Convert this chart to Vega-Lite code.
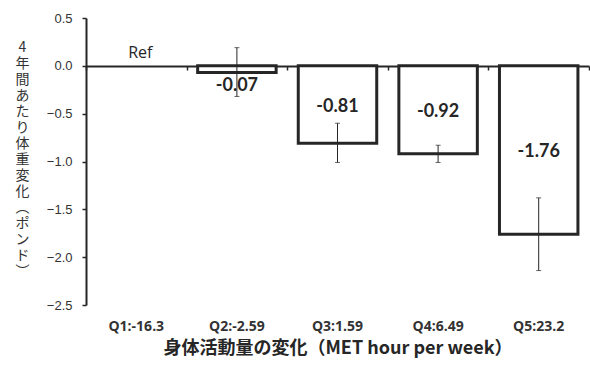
{
  "$schema": "https://vega.github.io/schema/vega-lite/v6.json",
  "width": 503,
  "height": 287,
  "autosize": {"type": "none"},
  "padding": {"left": 86, "top": 18, "right": 1, "bottom": 66},
  "background": "white",
  "config": {"view": {"stroke": null}},
  "data": {
    "values": [
      {"q": "Q1:-16.3", "value": null, "lo": null, "hi": null, "label": "Ref"},
      {"q": "Q2:-2.59", "value": -0.07, "lo": -0.32, "hi": 0.19, "label": "-0.07"},
      {"q": "Q3:1.59", "value": -0.81, "lo": -1.01, "hi": -0.6, "label": "-0.81"},
      {"q": "Q4:6.49", "value": -0.92, "lo": -1.01, "hi": -0.83, "label": "-0.92"},
      {"q": "Q5:23.2", "value": -1.76, "lo": -2.14, "hi": -1.38, "label": "-1.76"}
    ]
  },
  "resolve": {"axis": {"x": "independent", "y": "independent"}},
  "layer": [
    {
      "transform": [{"filter": "datum.value != null"}],
      "mark": {"type": "bar", "fill": "white", "stroke": "#262626", "strokeWidth": 3, "width": {"band": 0.78}},
      "encoding": {
        "x": {
          "field": "q", "type": "nominal", "sort": null,
          "scale": {"domain": ["Q1:-16.3", "Q2:-2.59", "Q3:1.59", "Q4:6.49", "Q5:23.2"], "paddingInner": 0, "paddingOuter": 0},
          "axis": {
            "orient": "bottom", "domain": false, "ticks": false, "labelAngle": 0,
            "labelFont": "Open Sans", "labelFontWeight": "bold", "labelFontSize": 14, "labelColor": "#333333",
            "labelPadding": 14, "labelBaseline": "top",
            "title": "身体活動量の変化（MET hour per week）",
            "titleFont": "Noto Sans CJK JP", "titleFontWeight": "bold", "titleFontSize": 18, "titleColor": "#262626",
            "titlePadding": 6
          }
        },
        "y": {
          "field": "value", "type": "quantitative",
          "scale": {"domain": [-2.5, 0.5], "nice": false, "zero": false},
          "axis": {
            "values": [0.5, 0, -0.5, -1, -1.5, -2, -2.5], "format": ".1f", "grid": false,
            "domain": true, "domainColor": "#262626", "domainWidth": 2,
            "tickColor": "#262626", "tickSize": 4, "tickWidth": 1.5,
            "labelFont": "Liberation Sans", "labelFontSize": 13, "labelColor": "#333333", "labelPadding": 10,
            "title": ["4", "年", "間", "あ", "た", "り", "体", "重", "変", "化", "︵", "ポ", "ン", "ド", "︶"],
            "titleAngle": 0, "titleAlign": "center", "titleBaseline": "top",
            "titleX": -64, "titleY": 22, "titleFont": "Noto Sans CJK JP", "titleFontWeight": "normal",
            "titleFontSize": 14, "titleLineHeight": 16, "titleColor": "#333333"
          }
        }
      }
    },
    {
      "transform": [{"filter": "datum.value != null"}],
      "mark": {"type": "errorbar", "ticks": {"size": 5, "color": "#262626", "thickness": 1}, "rule": {"color": "#262626", "strokeWidth": 1}},
      "encoding": {
        "x": {
          "field": "q", "type": "nominal", "sort": null,
          "axis": {
            "orient": "top", "offset": -48, "labels": false, "title": null,
            "domain": true, "domainColor": "#262626", "domainWidth": 2,
            "ticks": true, "tickBand": "extent", "tickSize": -4, "tickColor": "#262626", "tickWidth": 1.5
          }
        },
        "y": {"field": "lo", "type": "quantitative", "axis": null},
        "y2": {"field": "hi"}
      }
    },
    {
      "transform": [
        {"filter": "datum.value != null"},
        {"calculate": "datum.value < -0.2 ? datum.value / 2 : datum.value - 0.12", "as": "labelY"}
      ],
      "mark": {"type": "text", "font": "Lato", "fontWeight": "bold", "fontSize": 18, "color": "#262626", "baseline": "middle", "dy": 2},
      "encoding": {
        "x": {"field": "q", "type": "nominal", "sort": null, "axis": null},
        "y": {"field": "labelY", "type": "quantitative", "axis": null},
        "text": {"field": "label"}
      }
    },
    {
      "transform": [{"filter": "datum.value == null"}],
      "mark": {"type": "text", "font": "Open Sans", "fontSize": 16, "color": "#262626", "baseline": "middle", "dy": -13, "dx": 4},
      "encoding": {
        "x": {"field": "q", "type": "nominal", "sort": null, "axis": null},
        "y": {"datum": 0, "type": "quantitative", "axis": null},
        "text": {"field": "label"}
      }
    }
  ]
}
